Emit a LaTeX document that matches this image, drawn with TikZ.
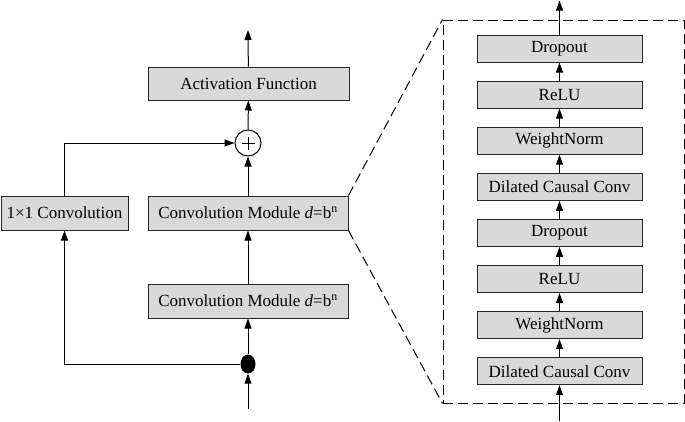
\documentclass[tikz,border=0pt]{standalone}
\usepackage{fontspec}
\setmainfont{Liberation Serif}
\usetikzlibrary{arrows.meta,shapes.geometric}
\begin{document}
\begin{tikzpicture}[x=1pt,y=-1pt,
  box/.style={draw=black!85, line width=1pt, fill=black!15, inner sep=0pt, font=\fontsize{17}{20}\selectfont},
  bigbox/.style={box, minimum height=33pt},
  smallbox/.style={box, minimum width=165pt, minimum height=27pt},
  arr/.style={line width=1pt, -{Triangle[length=10pt,width=7pt]}},
  zoomline/.style={line width=1pt, dash pattern=on 10pt off 5pt},
  plus/.style={circle, draw, line width=1pt, fill=white, minimum size=26pt, inner sep=0pt,
    path picture={\draw[line width=0.9pt] ([xshift=-6.5pt]path picture bounding box.center) -- ([xshift=6.5pt]path picture bounding box.center);
                  \draw[line width=0.9pt] ([yshift=-6.5pt]path picture bounding box.center) -- ([yshift=6.5pt]path picture bounding box.center);}},
  dot/.style={ellipse, fill=black, minimum width=15pt, minimum height=19pt, inner sep=0pt}
]
\useasboundingbox (0,0) rectangle (685,421);
% left part
\node[bigbox, minimum width=201pt] (act) at (248.5,83.5) {Activation Function};
\node[plus] (plus) at (248,143) {};
\node[bigbox, minimum width=200pt, minimum height=34pt] (cm2) at (248,213) {Convolution Module \textit{d}=b\textsuperscript{n}};
\node[bigbox, minimum width=127pt, minimum height=34pt] (conv1) at (64.5,213) {1×1 Convolution};
\node[bigbox, minimum width=200pt, minimum height=34pt] (cm1) at (248,301) {Convolution Module \textit{d}=b\textsuperscript{n}};
\node[dot] (dot) at (248,364) {};
\coordinate (in) at (248,409);
\coordinate (out) at (248,30);
\draw[arr] (in) -- (dot);
\draw[arr] (dot) -- (cm1);
\draw[arr] (cm1) -- (cm2);
\draw[arr] (cm2) -- (plus);
\draw[arr] (plus) -- (act);
\draw[arr] (act) -- (out);
\draw[arr] (dot.west) -| (conv1.south);
\draw[arr] (conv1.north) |- (plus.west);
% zoom box
\node[draw, zoomline, minimum width=241pt, minimum height=383pt, inner sep=0pt] (zbox) at (563.5,211.5) {};
\draw[zoomline] (cm2.north east) -- (zbox.north west);
\draw[zoomline] (cm2.south east) -- (zbox.south west);
% right chain
\node[smallbox] (r1) at (559.5,371.2) {Dilated Causal Conv};
\node[smallbox] (r2) at (559.5,325.1) {WeightNorm};
\node[smallbox] (r3) at (559.5,279) {ReLU};
\node[smallbox] (r4) at (559.5,232.9) {Dropout};
\node[smallbox] (r5) at (559.5,186.8) {Dilated Causal Conv};
\node[smallbox] (r6) at (559.5,140.7) {WeightNorm};
\node[smallbox] (r7) at (559.5,94.6) {ReLU};
\node[smallbox] (r8) at (559.5,48.5) {Dropout};
\coordinate (rin) at (559.5,421);
\coordinate (rout) at (559.5,0.5);
\draw[arr] (rin) -- (r1);
\draw[arr] (r1) -- (r2);
\draw[arr] (r2) -- (r3);
\draw[arr] (r3) -- (r4);
\draw[arr] (r4) -- (r5);
\draw[arr] (r5) -- (r6);
\draw[arr] (r6) -- (r7);
\draw[arr] (r7) -- (r8);
\draw[arr] (r8) -- (rout);
\end{tikzpicture}
\end{document}
